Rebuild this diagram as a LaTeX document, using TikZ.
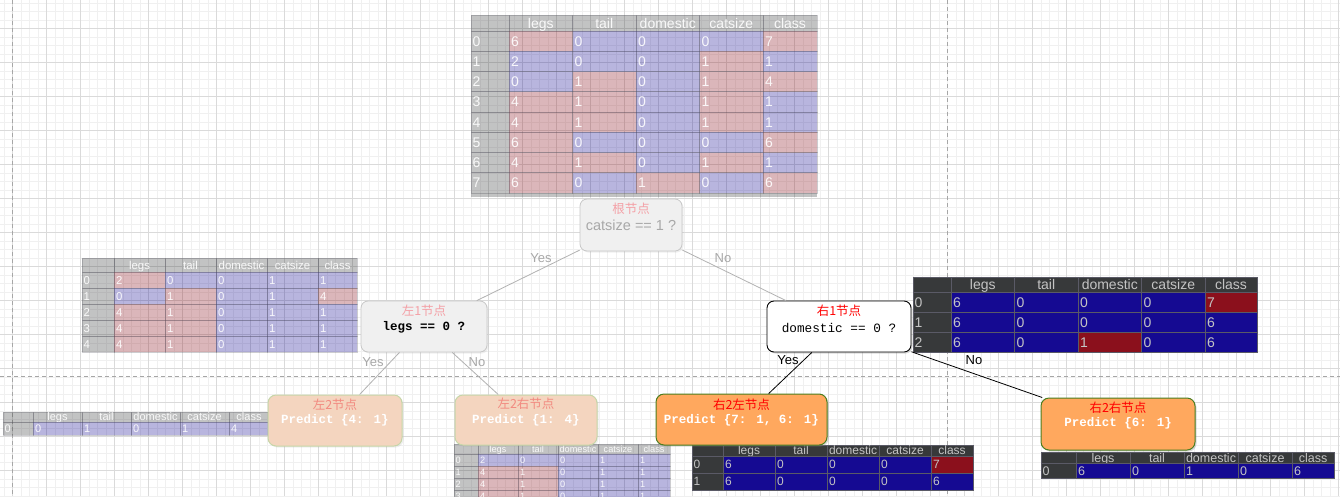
\documentclass[tikz,border=0pt]{standalone}
\usepackage{fontspec}
\setmainfont{Liberation Sans}
\newfontfamily\cjk{Noto Sans CJK SC}
\newfontfamily\mono{Liberation Mono}
\usetikzlibrary{shadows}

\definecolor{tbg}{HTML}{37393A}
\definecolor{tB}{HTML}{150A92}
\definecolor{tR}{HTML}{8B101C}
\definecolor{ttxt}{HTML}{C4C4C4}
\definecolor{tline}{HTML}{5A5A66}
\definecolor{gminor}{HTML}{F0F0F0}
\definecolor{gmajor}{HTML}{DADADA}
\definecolor{leaforange}{HTML}{FFA85E}
\definecolor{leafgreen}{HTML}{4B7D1F}
\definecolor{fadeorange}{HTML}{F4D5BF}
\definecolor{fadegreen}{HTML}{C6D6A8}
\definecolor{fadepink}{HTML}{F4A0A6}
\definecolor{fadesalmon}{HTML}{F28A80}
\definecolor{fadegray}{HTML}{A8A8A8}

\newcommand\TabSetup[8]{\def\tx{#1}\def\ty{#2}\def\twi{#3}\def\twc{#4}\def\twl{#5}\def\thh{#6}\def\trh{#7}\def\tfs{#8}}
\newcommand\TabHead{%
  \filldraw[fill=tbg, draw=tline, opacity=\topac, line width=0.6pt] (\tx,\ty) rectangle ++(\twi,\thh);%
  \foreach \hh [count=\kk from 0] in {legs,tail,domestic,catsize,class} {%
    \pgfmathsetmacro\cx{\tx+\twi+\kk*\twc}%
    \pgfmathsetmacro\cw{\kk==4 ? \twl : \twc}%
    \filldraw[fill=tbg, draw=tline, opacity=\topac, line width=0.6pt] (\cx,\ty) rectangle ++(\cw,\thh);%
    \node[tabtxt, anchor=base] at (\cx+\cw/2, \ty+\thh/2+0.36*\tfs) {\hh};%
  }%
}
\newcommand\TabRow[2]{%
  \pgfmathsetmacro\ry{\ty+\thh+#1*\trh}%
  \filldraw[fill=tbg, draw=tline, opacity=\topac, line width=0.6pt] (\tx,\ry) rectangle ++(\twi,\trh);%
  \node[tabtxt, anchor=base west] at (\tx+1.5, \ry+\trh/2+0.36*\tfs) {#1};%
  \foreach \vv/\cc [count=\kk from 0] in {#2} {%
    \pgfmathsetmacro\cx{\tx+\twi+\kk*\twc}%
    \pgfmathsetmacro\cw{\kk==4 ? \twl : \twc}%
    \filldraw[fill=t\cc, draw=tline, opacity=\topac, line width=0.6pt] (\cx,\ry) rectangle ++(\cw,\trh);%
    \node[tabtxt, anchor=base west] at (\cx+2, \ry+\trh/2+0.36*\tfs) {\vv};%
  }%
}
\newcommand\Faded{\def\topac{0.3}\def\ttxtc{white}\def\ttxtop{0.9}}
\newcommand\Dark{\def\topac{1}\def\ttxtc{ttxt}\def\ttxtop{1}}

\tikzset{
  tabtxt/.style={font=\fontsize{\tfs}{\tfs}\selectfont, text=\ttxtc, text opacity=\ttxtop, inner sep=0pt},
  gridminor/.style={draw=gminor, line width=0.6pt},
  gridmajor/.style={draw=gmajor, line width=0.7pt},
  dashln/.style={draw=black!35, line width=0.7pt, dash pattern=on 4pt off 3pt},
  fadedq/.style={draw=black!22, fill=black!6, line width=0.8pt, rounded corners=7pt,
    drop shadow={shadow xshift=1.5pt, shadow yshift=-1.5pt, opacity=0.12}},
  whiteq/.style={draw=black, fill=white, line width=0.9pt, rounded corners=7pt,
    drop shadow={shadow xshift=1.5pt, shadow yshift=-1.5pt, opacity=0.3}},
  leafbox/.style={draw=leafgreen, fill=leaforange, line width=1pt, rounded corners=8pt,
    drop shadow={shadow xshift=1.5pt, shadow yshift=-1.5pt, opacity=0.3}},
  fadeleaf/.style={draw=fadegreen, fill=fadeorange, line width=1pt, rounded corners=8pt,
    drop shadow={shadow xshift=1.5pt, shadow yshift=-1.5pt, opacity=0.12}},
  ttl/.style={font=\cjk\fontsize{12.5}{14}\selectfont, inner sep=0pt},
  monob/.style={font=\mono\bfseries\fontsize{12.5}{14}\selectfont, inner sep=0pt},
  monor/.style={font=\mono\fontsize{12.7}{14}\selectfont, inner sep=0pt},
  elab/.style={font=\fontsize{13}{15}\selectfont, inner sep=0pt},
  fadeedge/.style={draw=black!30, line width=0.8pt},
  darkedge/.style={draw=black, line width=0.8pt},
}

\begin{document}
\begin{tikzpicture}[x=1pt,y=-1pt]
\useasboundingbox (0,0) rectangle (1340,496);
\clip (0,0) rectangle (1340,496);
\fill[white] (0,0) rectangle (1340,496);
% grid (minor 8.5, major 34)
\foreach \i in {0,...,159} {\draw[gridminor] ({-4.7+\i*8.5},0) -- ++(0,496);}
\foreach \j in {0,...,59} {\draw[gridminor] (0,{-5.7+\j*8.5}) -- ++(1340,0);}
\foreach \i in {0,...,39} {\draw[gridmajor] ({12.3+\i*34},0) -- ++(0,496);}
\foreach \j in {0,...,14} {\draw[gridmajor] (0,{-5.7+\j*34}) -- ++(1340,0);}
% dashed guides
\draw[dashln] (947.3,0) -- (947.3,496);
\draw[dashln] (12.3,0) -- (12.3,496);
\draw[dashln] (0,376.8) -- (1340,376.8);

% ---------- tables ----------
% root table (faded)
\Faded
\TabSetup{471}{15}{38}{63.5}{54}{16}{20.25}{14}
\TabHead
\TabRow{0}{6/R,0/B,0/B,0/B,7/R}
\TabRow{1}{2/B,0/B,0/B,1/R,1/B}
\TabRow{2}{0/B,1/R,0/B,1/R,4/R}
\TabRow{3}{4/R,1/R,0/B,1/R,1/B}
\TabRow{4}{4/R,1/R,0/B,1/R,1/B}
\TabRow{5}{6/R,0/B,0/B,0/B,6/R}
\TabRow{6}{4/R,1/R,0/B,1/R,1/B}
\TabRow{7}{6/R,0/B,1/R,0/B,6/R}
\fill[tbg, opacity=0.3] (471,193) rectangle (817,197);

% left1 table (faded)
\TabSetup{82}{258}{32}{51}{39}{14}{16}{11.4}
\TabHead
\TabRow{0}{2/R,0/B,0/B,1/B,1/B}
\TabRow{1}{0/B,1/R,0/B,1/B,4/R}
\TabRow{2}{4/R,1/R,0/B,1/B,1/B}
\TabRow{3}{4/R,1/R,0/B,1/B,1/B}
\TabRow{4}{4/R,1/R,0/B,1/B,1/B}

% left2 table (faded)
\TabSetup{3}{412}{30}{49}{40}{10}{13}{11}
\TabHead
\TabRow{0}{0/B,1/B,0/B,1/B,4/B}

% left2 right table (faded)
\TabSetup{454}{444}{24}{40}{32}{10}{12}{9.2}
\TabHead
\TabRow{0}{2/B,0/B,0/B,1/B,1/B}
\TabRow{1}{4/R,1/R,0/B,1/B,1/B}
\TabRow{2}{4/R,1/R,0/B,1/B,1/B}
\TabRow{3}{4/R,1/R,0/B,1/B,1/B}

% right1 table (dark)
\Dark
\TabSetup{913}{277}{38}{63.5}{52}{15}{20}{14}
\TabHead
\TabRow{0}{6/B,0/B,0/B,0/B,7/R}
\TabRow{1}{6/B,0/B,0/B,0/B,6/B}
\TabRow{2}{6/B,0/B,1/R,0/B,6/B}

% right2 left table (dark)
\TabSetup{692}{445}{31}{52}{42}{11}{17}{12}
\TabHead
\TabRow{0}{6/B,0/B,0/B,0/B,7/R}
\TabRow{1}{6/B,0/B,0/B,0/B,6/B}

% right2 right table (dark)
\TabSetup{1041}{452}{35}{54}{42}{11}{15}{12.5}
\TabHead
\TabRow{0}{6/B,0/B,1/B,0/B,6/B}

% ---------- nodes ----------
\node[fadedq, minimum width=102pt, minimum height=52pt] (root) at (631,225) {};
\node[ttl, text=fadepink] at ([yshift=-10pt]root.north) {根节点};
\node[font=\fontsize{14.5}{16}\selectfont, inner sep=0pt, text=fadegray] at ([yshift=-27pt]root.north) {catsize == 1 ?};

\node[fadedq, minimum width=126pt, minimum height=51pt] (l1) at (424,326.5) {};
\node[ttl, text=fadepink] at ([yshift=-10pt]l1.north) {左1节点};
\node[monob, text=black] at ([yshift=-27pt]l1.north) {legs == 0 ?};

\node[whiteq, minimum width=144pt, minimum height=51pt] (r1) at (839,326.5) {};
\node[ttl, text=red] at ([yshift=-10pt]r1.north) {右1节点};
\node[monor, text=black] at ([yshift=-27pt]r1.north) {domestic == 0 ?};

\node[fadeleaf, minimum width=134pt, minimum height=51pt] (l2) at (335,420.5) {};
\node[ttl, text=fadesalmon] at ([yshift=-10pt]l2.north) {左2节点};
\node[monob, text=white] at ([yshift=-26pt]l2.north) {Predict \{4: 1\}};

\node[fadeleaf, minimum width=142pt, minimum height=50pt] (l2r) at (526,420) {};
\node[ttl, text=fadesalmon] at ([yshift=-9pt]l2r.north) {左2右节点};
\node[monob, text=white] at ([yshift=-26pt]l2r.north) {Predict \{1: 4\}};

\node[leafbox, minimum width=171pt, minimum height=51pt] (r2l) at (741.5,419.5) {};
\node[ttl, text=red] at ([yshift=-11pt]r2l.north) {右2左节点};
\node[monob, text=white] at ([yshift=-27pt]r2l.north) {Predict \{7: 1, 6: 1\}};

\node[leafbox, minimum width=154pt, minimum height=52pt] (r2r) at (1118,424) {};
\node[ttl, text=red] at ([yshift=-10pt]r2r.north) {右2右节点};
\node[monob, text=white] at ([yshift=-26pt]r2r.north) {Predict \{6: 1\}};

% ---------- edges ----------
\draw[fadeedge] (root) -- (l1);
\draw[fadeedge] (root) -- (r1);
\draw[fadeedge] (l1) -- (l2);
\draw[fadeedge] (l1) -- (l2r);
\draw[darkedge] (r1) -- (r2l);
\draw[darkedge] (r1) -- (r2r);

% ---------- edge labels ----------
\node[elab, text=fadegray] (lyes0) at (541,258) {Yes};
\node[elab, text=fadegray] (lno0) at (723,258) {No};
\node[elab, text=fadegray] (lyes1) at (373,362.5) {Yes};
\node[elab, text=fadegray] (lno1) at (477,362) {No};
\node[elab, text=black] (lyes2) at (788,360.5) {Yes};
\node[elab, text=black] (lno2) at (974,360.5) {No};
\end{tikzpicture}
\end{document}
